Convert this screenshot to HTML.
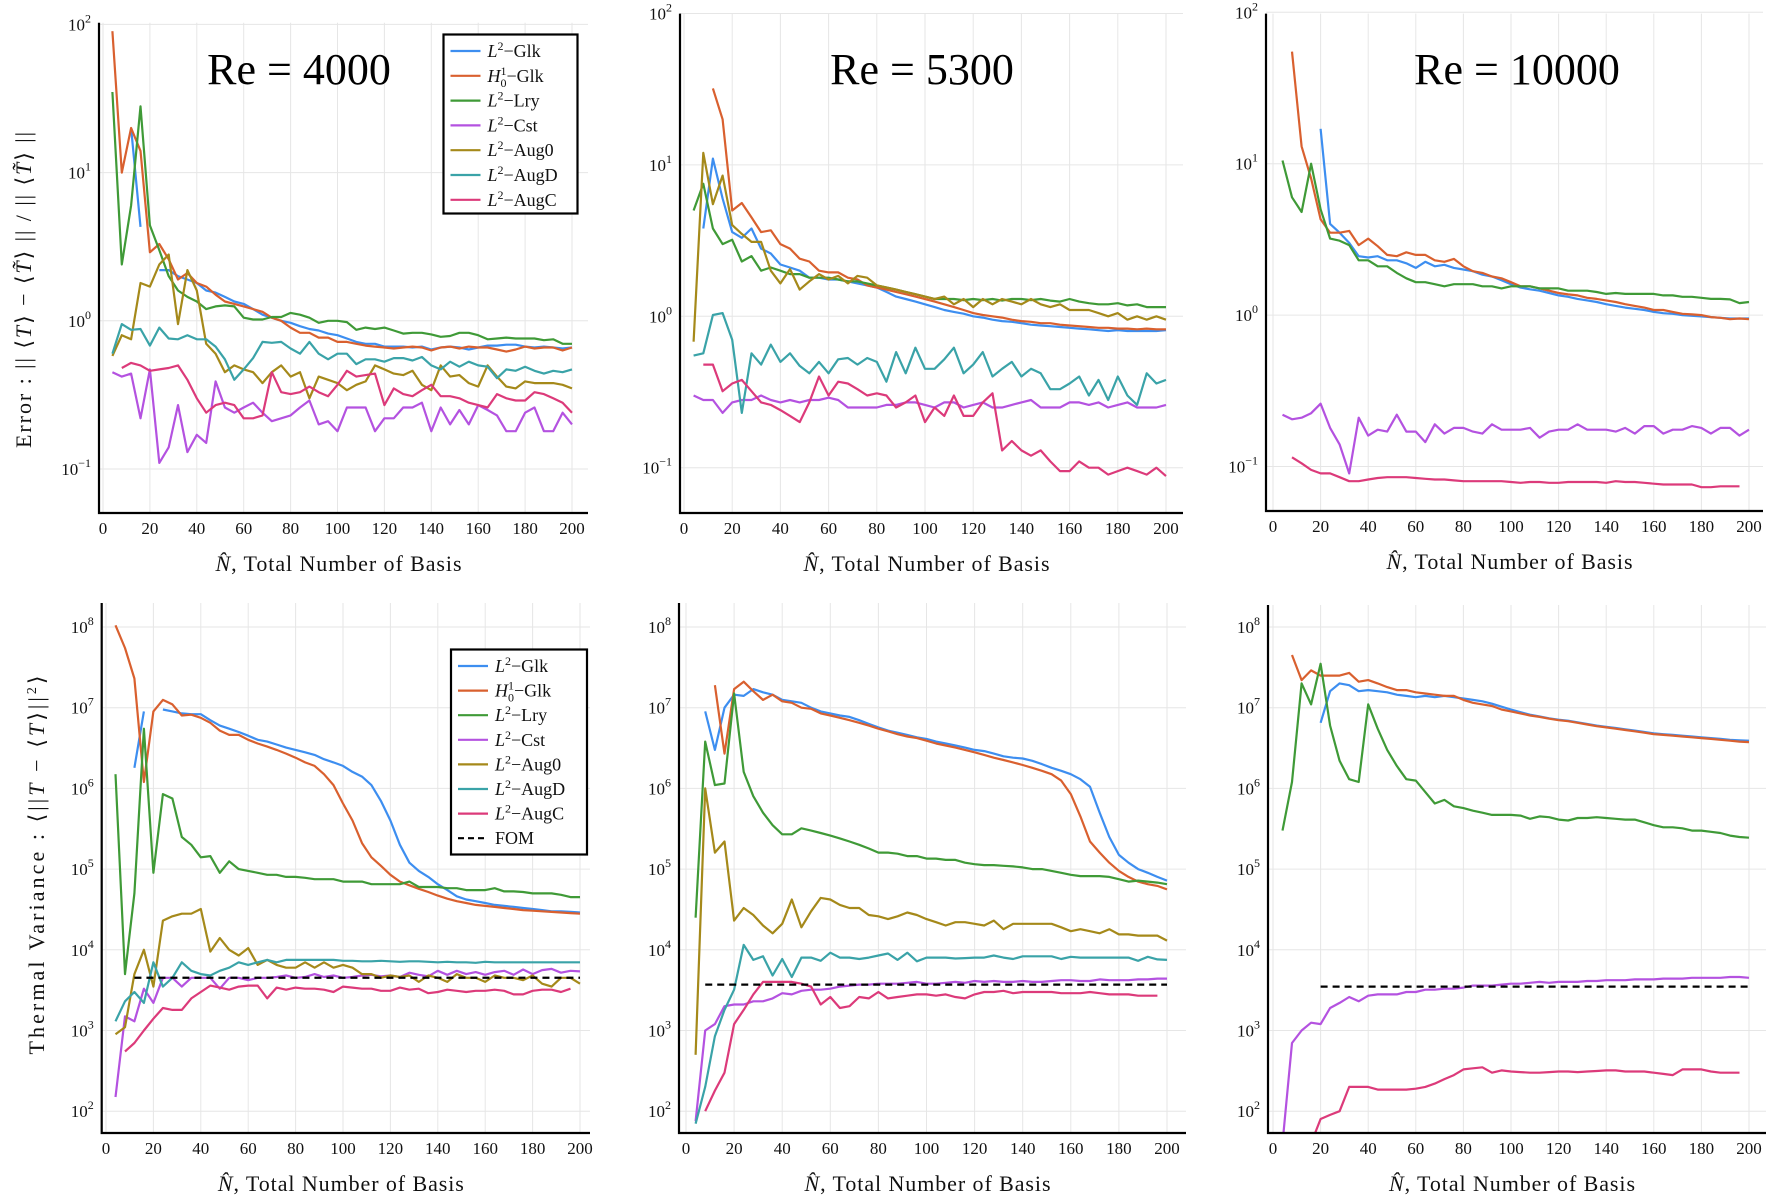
<!DOCTYPE html>
<html><head><meta charset="utf-8"><style>
html,body{margin:0;padding:0;background:#fff;}
svg{display:block;font-family:"Liberation Serif","DejaVu Serif",serif;}
</style></head><body>
<svg id="chart" xmlns="http://www.w3.org/2000/svg" width="1772" height="1204" viewBox="0 0 1772 1204"></svg>
<script>
// ---------- data ----------
const N = [4,8,12,16,20,24,28,32,36,40,44,48,52,56,60,64,68,72,76,80,84,88,92,96,100,104,108,112,116,120,124,128,132,136,140,144,148,152,156,160,164,168,172,176,180,184,188,192,196,200];
const xTicks = [0,20,40,60,80,100,120,140,160,180,200];
const seriesNames = ["L2-Glk","H01-Glk","L2-Lry","L2-Cst","L2-Aug0","L2-AugD","L2-AugC"];

const aGlk=[null,null,20,4.3,null,2.2,2.2,2.0,1.9,1.8,1.6,1.55,1.45,1.35,1.3,1.2,1.1,1.05,1.0,0.97,0.92,0.88,0.86,0.82,0.8,0.76,0.72,0.7,0.7,0.67,0.67,0.67,0.66,0.67,0.64,0.66,0.67,0.66,0.64,0.66,0.68,0.68,0.69,0.69,0.67,0.66,0.67,0.66,0.65,0.66];
const aH1=[90,10,20,14,2.9,3.3,2.6,1.9,2.1,1.8,1.7,1.5,1.35,1.3,1.25,1.2,1.15,1.05,1.0,0.9,0.83,0.83,0.77,0.77,0.72,0.72,0.7,0.68,0.67,0.66,0.65,0.66,0.67,0.66,0.63,0.66,0.67,0.65,0.67,0.66,0.66,0.64,0.62,0.64,0.67,0.65,0.66,0.66,0.63,0.66];
const aLry=[35,2.4,6,28,4.4,3.0,2.0,1.6,1.45,1.35,1.2,1.25,1.27,1.25,1.05,1.02,1.02,1.06,1.06,1.13,1.1,1.05,0.97,1.0,1.0,0.98,0.87,0.9,0.88,0.9,0.86,0.82,0.83,0.83,0.81,0.78,0.79,0.83,0.83,0.8,0.75,0.76,0.77,0.76,0.76,0.76,0.74,0.75,0.7,0.7];
const aCst=[0.45,0.42,0.44,0.22,0.47,0.11,0.14,0.27,0.13,0.17,0.15,0.39,0.26,0.24,0.26,0.28,0.24,0.21,0.22,0.23,0.26,0.29,0.2,0.21,0.18,0.26,0.26,0.26,0.18,0.22,0.22,0.26,0.26,0.28,0.18,0.26,0.2,0.25,0.2,0.27,0.25,0.23,0.18,0.18,0.24,0.26,0.18,0.18,0.24,0.2];
const aAug0=[0.58,0.8,0.75,1.8,1.7,2.4,2.8,0.95,2.2,1.6,0.7,0.6,0.45,0.5,0.47,0.45,0.38,0.45,0.5,0.42,0.45,0.3,0.42,0.4,0.38,0.34,0.37,0.39,0.5,0.47,0.44,0.43,0.46,0.37,0.34,0.5,0.42,0.43,0.38,0.36,0.5,0.42,0.36,0.35,0.39,0.38,0.38,0.38,0.37,0.35];
const aAugD=[0.6,0.95,0.87,0.88,0.68,0.9,0.76,0.75,0.8,0.75,0.75,0.67,0.55,0.4,0.47,0.56,0.72,0.71,0.72,0.65,0.6,0.72,0.6,0.55,0.6,0.6,0.51,0.55,0.55,0.53,0.56,0.56,0.54,0.57,0.5,0.47,0.53,0.49,0.53,0.5,0.49,0.41,0.47,0.46,0.49,0.46,0.44,0.46,0.45,0.47];
const aAugC=[null,0.48,0.52,0.5,0.46,0.47,0.48,0.5,0.4,0.3,0.24,0.27,0.28,0.27,0.22,0.22,0.23,0.45,0.33,0.32,0.33,0.36,0.33,0.31,0.37,0.46,0.42,0.43,0.44,0.27,0.35,0.32,0.31,0.34,0.37,0.31,0.31,0.3,0.28,0.27,0.26,0.32,0.3,0.29,0.29,0.33,0.32,0.3,0.28,0.24];

const bGlk=[null,3.8,11,6,3.6,3.3,3.8,2.8,2.6,2.2,2.1,2.0,1.8,1.8,1.75,1.75,1.7,1.65,1.6,1.55,1.45,1.35,1.3,1.25,1.2,1.15,1.1,1.07,1.04,1.0,0.98,0.95,0.93,0.92,0.9,0.88,0.87,0.86,0.85,0.84,0.83,0.82,0.81,0.8,0.81,0.8,0.8,0.8,0.8,0.81];
const bH1=[null,null,32,20,5,5.6,4.5,3.6,3.7,3.0,2.8,2.4,2.3,2.0,1.95,1.95,1.8,1.75,1.6,1.55,1.5,1.45,1.4,1.35,1.3,1.25,1.2,1.15,1.1,1.05,1.02,1.0,0.98,0.95,0.93,0.92,0.9,0.9,0.88,0.87,0.86,0.85,0.84,0.84,0.83,0.83,0.82,0.83,0.82,0.82];
const bLry=[5,7.5,3.8,3.0,3.2,2.3,2.5,2.0,2.1,2.0,1.9,1.9,1.8,1.8,1.8,1.75,1.7,1.7,1.65,1.6,1.55,1.5,1.45,1.4,1.35,1.3,1.3,1.3,1.28,1.3,1.28,1.3,1.27,1.3,1.3,1.28,1.3,1.27,1.25,1.3,1.25,1.22,1.2,1.2,1.22,1.18,1.2,1.15,1.15,1.15];
const bCst=[0.3,0.28,0.28,0.23,0.27,0.28,0.28,0.3,0.28,0.27,0.28,0.27,0.28,0.28,0.29,0.28,0.25,0.25,0.25,0.25,0.26,0.26,0.27,0.27,0.26,0.25,0.27,0.27,0.25,0.26,0.27,0.25,0.25,0.26,0.27,0.28,0.25,0.25,0.25,0.27,0.27,0.26,0.27,0.25,0.26,0.27,0.25,0.25,0.25,0.26];
const bAug0=[0.68,12,5.5,8.5,4.0,3.5,3.1,3.1,2.0,1.65,2.05,1.5,1.7,1.9,1.75,1.85,1.65,1.85,1.8,1.6,1.55,1.5,1.45,1.4,1.35,1.3,1.35,1.2,1.3,1.15,1.3,1.2,1.3,1.25,1.2,1.3,1.2,1.15,1.2,1.1,1.1,1.1,1.05,1.0,1.05,0.95,1.0,0.95,1.0,0.95];
const bAugD=[0.55,0.57,1.02,1.05,0.7,0.23,0.57,0.48,0.65,0.5,0.57,0.47,0.42,0.5,0.42,0.52,0.53,0.48,0.53,0.5,0.37,0.58,0.42,0.62,0.45,0.45,0.52,0.62,0.42,0.48,0.58,0.4,0.45,0.5,0.4,0.45,0.42,0.33,0.33,0.36,0.4,0.3,0.38,0.28,0.4,0.3,0.26,0.42,0.36,0.38];
const bAugC=[null,0.48,0.48,0.32,0.36,0.38,0.32,0.27,0.26,0.24,0.22,0.2,0.27,0.4,0.3,0.37,0.36,0.33,0.3,0.31,0.3,0.25,0.27,0.3,0.2,0.25,0.22,0.3,0.22,0.22,0.27,0.31,0.13,0.15,0.13,0.12,0.13,0.11,0.095,0.095,0.11,0.1,0.1,0.09,0.095,0.1,0.095,0.09,0.1,0.088];

const cGlk=[null,null,null,null,17,4.0,3.5,3.0,2.45,2.4,2.45,2.3,2.3,2.2,2.05,2.25,2.1,2.15,2.05,2.0,1.95,1.85,1.8,1.7,1.6,1.52,1.48,1.45,1.4,1.35,1.32,1.28,1.25,1.22,1.18,1.15,1.12,1.1,1.08,1.05,1.03,1.02,1.0,0.99,0.98,0.97,0.96,0.95,0.95,0.95];
const cH1=[null,55,13,8,4.3,3.5,3.5,3.6,2.9,3.2,2.85,2.5,2.45,2.6,2.5,2.5,2.3,2.25,2.35,2.1,1.95,1.9,1.8,1.75,1.65,1.55,1.55,1.5,1.45,1.4,1.37,1.35,1.3,1.28,1.25,1.22,1.18,1.15,1.12,1.08,1.08,1.05,1.02,1.01,1.0,0.97,0.96,0.94,0.95,0.94];
const cLry=[10.5,6,4.8,10,5,3.2,3.1,2.9,2.3,2.3,2.1,2.1,1.9,1.75,1.65,1.65,1.6,1.55,1.6,1.6,1.6,1.55,1.55,1.5,1.55,1.55,1.55,1.5,1.5,1.5,1.45,1.45,1.45,1.42,1.38,1.4,1.38,1.38,1.38,1.38,1.35,1.35,1.32,1.32,1.3,1.28,1.28,1.27,1.2,1.22];
const cCst=[0.22,0.205,0.21,0.225,0.26,0.18,0.14,0.09,0.21,0.16,0.175,0.17,0.22,0.17,0.17,0.145,0.19,0.165,0.18,0.18,0.17,0.165,0.19,0.175,0.175,0.175,0.18,0.155,0.17,0.175,0.175,0.19,0.175,0.175,0.175,0.17,0.18,0.165,0.185,0.185,0.165,0.175,0.175,0.185,0.18,0.165,0.18,0.18,0.16,0.175];
const cAugC=[null,0.115,0.105,0.095,0.09,0.09,0.085,0.08,0.08,0.082,0.084,0.085,0.085,0.085,0.084,0.083,0.082,0.082,0.081,0.08,0.08,0.08,0.08,0.08,0.079,0.078,0.079,0.079,0.078,0.078,0.079,0.079,0.079,0.079,0.078,0.08,0.079,0.079,0.078,0.077,0.076,0.076,0.076,0.076,0.073,0.073,0.074,0.074,0.074,null];

const dGlk=[null,null,1.8e6,9e6,null,9.5e6,9e6,8.5e6,8.3e6,8.3e6,7e6,6e6,5.5e6,5e6,4.5e6,4e6,3.8e6,3.5e6,3.2e6,3.0e6,2.8e6,2.6e6,2.3e6,2.1e6,1.9e6,1.6e6,1.4e6,1.1e6,7e5,4e5,2e5,1.2e5,9.5e4,8e4,6.5e4,5.5e4,4.6e4,4.2e4,4e4,3.8e4,3.6e4,3.5e4,3.4e4,3.3e4,3.2e4,3.1e4,3.0e4,3.0e4,2.95e4,2.9e4];
const dH1=[1.05e8,5.5e7,2.3e7,1.2e6,9e6,1.25e7,1.1e7,8e6,8.2e6,7.5e6,6.5e6,5.2e6,4.6e6,4.6e6,4.0e6,3.6e6,3.3e6,3.0e6,2.7e6,2.4e6,2.1e6,1.9e6,1.5e6,1.1e6,6.5e5,4e5,2.1e5,1.4e5,1.1e5,8.5e4,7e4,6.3e4,5.7e4,5.2e4,4.7e4,4.3e4,4.0e4,3.8e4,3.6e4,3.5e4,3.4e4,3.3e4,3.2e4,3.1e4,3.05e4,3.0e4,2.95e4,2.9e4,2.85e4,2.8e4];
const dLry=[1.5e6,5e3,5e4,5.5e6,9e4,8.5e5,7.5e5,2.5e5,2e5,1.4e5,1.45e5,9e4,1.25e5,1e5,9.5e4,9e4,8.5e4,8.5e4,8e4,8e4,7.8e4,7.5e4,7.5e4,7.5e4,7e4,7e4,7e4,6.5e4,6.5e4,6.5e4,6.5e4,7e4,6e4,6e4,6e4,5.8e4,5.8e4,5.5e4,5.5e4,5.5e4,5.8e4,5.3e4,5.3e4,5.2e4,5e4,5e4,5e4,4.8e4,4.5e4,4.5e4];
const dCst=[1.5e2,1.5e3,1.3e3,3.3e3,2.2e3,4.5e3,4.5e3,3.5e3,4.5e3,4.5e3,4.5e3,3.3e3,4.5e3,4.5e3,4.2e3,4.5e3,4.5e3,4.6e3,4.8e3,4.5e3,4.6e3,5e3,4.6e3,4.8e3,4.5e3,4.6e3,4.8e3,4.9e3,4.7e3,4.8e3,4.6e3,5.2e3,4.9e3,4.7e3,5.5e3,4.9e3,5.5e3,5e3,5.3e3,4.9e3,5.3e3,5.5e3,4.9e3,5.7e3,5e3,5.6e3,5.8e3,5.2e3,5.5e3,5.4e3];
const dAug0=[9e2,1.1e3,5e3,1e4,3.5e3,2.3e4,2.6e4,2.8e4,2.8e4,3.2e4,9.5e3,1.4e4,1e4,8.5e3,1.05e4,6.5e3,7.5e3,6.5e3,6e3,6e3,7e3,6e3,7e3,6e3,6.5e3,6e3,5e3,5e3,4.5e3,4.8e3,4.6e3,4.8e3,4e3,4.8e3,4.5e3,4e3,5e3,4.5e3,4.5e3,4e3,4.8e3,4.5e3,4.5e3,4.2e3,4.8e3,3.8e3,3.5e3,4.5e3,4.5e3,3.8e3];
const dAugD=[1.3e3,2.3e3,3e3,2.2e3,7e3,3.5e3,4.5e3,7e3,5.5e3,5e3,4.8e3,5.5e3,6e3,7e3,6.5e3,7e3,7.5e3,7e3,7.5e3,7.5e3,7.5e3,7.5e3,7.5e3,7.5e3,7.3e3,7.3e3,7.2e3,7.2e3,7.3e3,7.2e3,7.1e3,7.2e3,7.2e3,7.1e3,7.0e3,7.1e3,7.0e3,7.0e3,6.9e3,7.1e3,7.0e3,7.0e3,7.0e3,7.0e3,7.0e3,7.0e3,7.0e3,7.0e3,7.0e3,7.0e3];
const dAugC=[null,5.5e2,7e2,1e3,1.4e3,1.9e3,1.8e3,1.8e3,2.5e3,3e3,3.6e3,3.4e3,3.2e3,3.5e3,3.6e3,3.6e3,2.5e3,3.4e3,3.2e3,3.4e3,3.3e3,3.3e3,3.2e3,3.0e3,3.5e3,3.4e3,3.3e3,3.3e3,3.1e3,3.1e3,3.4e3,3.2e3,3.3e3,2.9e3,3.0e3,3.2e3,3.1e3,3.0e3,3.1e3,3.1e3,3.2e3,3.1e3,2.8e3,2.8e3,3.1e3,3.2e3,3.2e3,3.0e3,3.3e3,null];

const eGlk=[null,9e6,3e6,1e7,1.45e7,1.4e7,1.7e7,1.55e7,1.45e7,1.25e7,1.2e7,1.15e7,1e7,9e6,8.5e6,8e6,7.7e6,7e6,6.3e6,5.7e6,5.2e6,4.9e6,4.6e6,4.3e6,4.1e6,3.8e6,3.6e6,3.4e6,3.2e6,3.0e6,2.9e6,2.7e6,2.5e6,2.4e6,2.35e6,2.2e6,2.0e6,1.8e6,1.65e6,1.5e6,1.3e6,1.05e6,5e5,2.5e5,1.5e5,1.2e5,1.0e5,9e4,8e4,7.2e4];
const eH1=[null,null,1.9e7,2.7e6,1.7e7,2.1e7,1.6e7,1.25e7,1.45e7,1.2e7,1.15e7,1.0e7,9.7e6,8.5e6,8e6,7.5e6,7e6,6.5e6,6e6,5.5e6,5.1e6,4.7e6,4.4e6,4.2e6,3.9e6,3.6e6,3.4e6,3.2e6,3.0e6,2.8e6,2.6e6,2.4e6,2.25e6,2.1e6,1.95e6,1.8e6,1.65e6,1.5e6,1.25e6,8.5e5,4.5e5,2.2e5,1.6e5,1.2e5,9.5e4,8e4,7e4,6.5e4,6.2e4,5.6e4];
const eLry=[2.5e4,3.8e6,1.1e6,1.15e6,1.5e7,1.6e6,8e5,5e5,3.5e5,2.7e5,2.7e5,3.2e5,3e5,2.8e5,2.6e5,2.4e5,2.2e5,2e5,1.8e5,1.6e5,1.6e5,1.55e5,1.45e5,1.45e5,1.35e5,1.35e5,1.3e5,1.3e5,1.2e5,1.15e5,1.12e5,1.12e5,1.1e5,1.08e5,1.05e5,1.0e5,1.0e5,9.5e4,9e4,8.5e4,8.2e4,8.2e4,8.2e4,8e4,7.5e4,7e4,7.2e4,7e4,6.8e4,6.5e4];
const eCst=[75,1e3,1.2e3,2e3,2.1e3,2.1e3,2.3e3,2.3e3,2.5e3,2.9e3,2.8e3,3.1e3,3.2e3,3.2e3,3.3e3,3.5e3,3.6e3,3.7e3,3.7e3,3.8e3,3.8e3,3.8e3,3.9e3,4e3,3.8e3,3.8e3,3.9e3,4e3,3.9e3,4.1e3,4.0e3,4.1e3,4.0e3,4.0e3,4.1e3,4.0e3,4.0e3,4.1e3,4.2e3,4.2e3,4.1e3,4.1e3,4.3e3,4.2e3,4.2e3,4.2e3,4.3e3,4.3e3,4.4e3,4.4e3];
const eAug0=[5e2,1e6,1.6e5,2.2e5,2.3e4,3.3e4,2.7e4,2e4,1.6e4,2.1e4,4.2e4,1.9e4,3e4,4.4e4,4.2e4,3.6e4,3.3e4,3.3e4,2.7e4,2.6e4,2.4e4,2.6e4,2.9e4,2.7e4,2.4e4,2.2e4,2e4,2.2e4,2.2e4,2.1e4,2e4,2.3e4,1.8e4,2.1e4,2.1e4,2.1e4,2.1e4,2.1e4,1.9e4,1.7e4,1.8e4,1.7e4,1.6e4,1.8e4,1.55e4,1.55e4,1.5e4,1.5e4,1.5e4,1.3e4];
const eAugD=[70,2e2,8.5e2,1.8e3,3.2e3,1.15e4,7.5e3,8.3e3,4.8e3,7.7e3,4.6e3,8e3,8e3,7.3e3,9.2e3,8e3,8e3,7.7e3,8e3,8.5e3,9e3,7.5e3,9.2e3,7.2e3,8e3,8e3,8e3,7.8e3,7.9e3,8e3,8e3,8.5e3,8e3,7.7e3,8.3e3,8.3e3,8.3e3,8.3e3,7.7e3,8.2e3,8e3,8e3,8e3,8e3,8e3,8e3,7.3e3,8.2e3,7.6e3,7.5e3];
const eAugC=[null,1e2,1.8e2,3e2,1.2e3,1.8e3,2.8e3,4e3,4e3,4e3,4e3,3.8e3,3.5e3,2.1e3,2.6e3,1.9e3,2e3,2.6e3,2.5e3,3e3,2.5e3,2.6e3,2.7e3,2.8e3,2.8e3,2.7e3,2.8e3,2.6e3,2.5e3,2.8e3,3e3,3e3,3.1e3,2.9e3,3e3,3e3,3e3,3e3,2.9e3,2.9e3,2.9e3,3e3,2.9e3,2.8e3,2.8e3,2.8e3,2.7e3,2.7e3,2.7e3,null];

const fGlk=[null,null,null,null,6.5e6,1.6e7,2e7,1.9e7,1.6e7,1.65e7,1.6e7,1.55e7,1.45e7,1.4e7,1.35e7,1.4e7,1.35e7,1.4e7,1.35e7,1.3e7,1.25e7,1.2e7,1.12e7,1.03e7,9.5e6,8.8e6,8.2e6,7.8e6,7.4e6,7.1e6,6.9e6,6.6e6,6.3e6,6e6,5.8e6,5.6e6,5.4e6,5.2e6,5.0e6,4.8e6,4.7e6,4.6e6,4.5e6,4.4e6,4.3e6,4.2e6,4.1e6,4.0e6,3.95e6,3.9e6];
const fH1=[null,4.5e7,2.2e7,2.9e7,2.5e7,2.5e7,2.5e7,2.7e7,2.1e7,2.2e7,2e7,1.8e7,1.65e7,1.65e7,1.55e7,1.5e7,1.45e7,1.4e7,1.4e7,1.25e7,1.15e7,1.1e7,1.05e7,9.5e6,9e6,8.5e6,8e6,7.7e6,7.3e6,7e6,6.8e6,6.5e6,6.2e6,5.9e6,5.7e6,5.5e6,5.3e6,5.1e6,4.9e6,4.7e6,4.6e6,4.5e6,4.4e6,4.3e6,4.2e6,4.1e6,4.0e6,3.9e6,3.8e6,3.75e6];
const fLry=[3e5,1.2e6,2e7,1.1e7,3.5e7,6e6,2.2e6,1.3e6,1.2e6,1.1e7,5.5e6,3e6,1.9e6,1.3e6,1.25e6,9e5,6.5e5,7.2e5,6e5,5.7e5,5.3e5,5e5,4.7e5,4.7e5,4.7e5,4.6e5,4.2e5,4.5e5,4.4e5,4.1e5,4.0e5,4.3e5,4.3e5,4.4e5,4.3e5,4.2e5,4.1e5,4.1e5,3.8e5,3.5e5,3.3e5,3.3e5,3.2e5,3e5,3e5,2.9e5,2.8e5,2.6e5,2.5e5,2.45e5];
const fCst=[40,7e2,1e3,1.25e3,1.2e3,1.9e3,2.2e3,2.6e3,2.3e3,2.7e3,2.8e3,2.8e3,2.8e3,3e3,3e3,3.2e3,3.2e3,3.3e3,3.3e3,3.4e3,3.6e3,3.6e3,3.6e3,3.7e3,3.8e3,3.8e3,3.9e3,4e3,3.9e3,4e3,4e3,4e3,4.1e3,4.1e3,4.2e3,4.2e3,4.2e3,4.3e3,4.3e3,4.3e3,4.4e3,4.4e3,4.4e3,4.5e3,4.5e3,4.5e3,4.5e3,4.6e3,4.6e3,4.5e3];
const fAugC=[null,null,null,40,80,90,1e2,2e2,2e2,2e2,1.85e2,1.85e2,1.85e2,1.85e2,1.9e2,2e2,2.2e2,2.5e2,2.8e2,3.3e2,3.4e2,3.5e2,3e2,3.2e2,3.1e2,3.05e2,3e2,3e2,3.05e2,3.1e2,3.1e2,3.05e2,3.1e2,3.15e2,3.2e2,3.2e2,3.1e2,3.1e2,3.1e2,3e2,2.9e2,2.8e2,3.3e2,3.3e2,3.3e2,3.1e2,3e2,3e2,3e2,null];

const fomLevel = [4.5e3, 3.7e3, 3.5e3];
const fomStart = [12, 8, 20];
const fomEnd = [200, 200, 200];

const colors = ["#3d8ef0","#d9602f","#3f9a37","#b452e0","#a5891a","#3aa3a8","#dc3a7a"];

// ---------- rendering ----------
const NS = "http://www.w3.org/2000/svg";
const svg = document.getElementById("chart");
function mk(tag, attrs, parent) {
  const e = document.createElementNS(NS, tag);
  for (const k in attrs) e.setAttribute(k, attrs[k]);
  (parent || svg).appendChild(e);
  return e;
}

const panels = [
  {key:"re4000-error", px0:103, px200:572, left:99, right:588, top:22.7, bottom:513, refLog:-1, refPx:469, dec:148.2, decs:[-1,0,1,2],
   series:[aGlk,aH1,aLry,aCst,aAug0,aAugD,aAugC], fom:null, title:"Re = 4000", titleX:299},
  {key:"re5300-error", px0:684, px200:1166, left:680, right:1183, top:13.6, bottom:513, refLog:-1, refPx:467.7, dec:151.4, decs:[-1,0,1,2],
   series:[bGlk,bH1,bLry,bCst,bAug0,bAugD,bAugC], fom:null, title:"Re = 5300", titleX:922},
  {key:"re10000-error", px0:1273, px200:1749, left:1266, right:1763, top:13.6, bottom:511, refLog:-1, refPx:466.5, dec:151.4, decs:[-1,0,1,2],
   series:[cGlk,cH1,cLry,cCst,null,null,cAugC], fom:null, title:"Re = 10000", titleX:1517},
  {key:"re4000-variance", px0:106, px200:580, left:101.7, right:590, top:603, bottom:1133, refLog:8, refPx:627, dec:80.7, decs:[2,3,4,5,6,7,8],
   series:[dGlk,dH1,dLry,dCst,dAug0,dAugD,dAugC], fom:0},
  {key:"re5300-variance", px0:686, px200:1167, left:679, right:1186, top:603, bottom:1133, refLog:8, refPx:627, dec:80.7, decs:[2,3,4,5,6,7,8],
   series:[eGlk,eH1,eLry,eCst,eAug0,eAugD,eAugC], fom:1},
  {key:"re10000-variance", px0:1273, px200:1749, left:1268, right:1766, top:605, bottom:1133, refLog:8, refPx:627, dec:80.7, decs:[2,3,4,5,6,7,8],
   series:[fGlk,fH1,fLry,fCst,null,null,fAugC], fom:2}
];

panels.forEach((p, pi) => {
  const xs = v => p.px0 + (p.px200 - p.px0) * v / 200;
  const ys = v => p.refPx - (Math.log10(v) - p.refLog) * p.dec;
  const g = mk("g", {});
  
  
  const clip = mk("clipPath", {id: "clip" + pi}, g);
  mk("rect", {x: p.left, y: p.top, width: p.right - p.left, height: p.bottom - p.top}, clip);

  xTicks.forEach(t => {
    const l = mk("line", {x1: xs(t), x2: xs(t), y1: p.top, y2: p.bottom, stroke: "#e6e6e6", "stroke-width": 1}, g);
    
    
  });
  p.decs.forEach(d => {
    const y = p.refPx - (d - p.refLog) * p.dec;
    const l = mk("line", {x1: p.left, x2: p.right, y1: y, y2: y, stroke: "#e6e6e6", "stroke-width": 1}, g);
    
    
    const t = mk("text", {x: p.left - 8, y: y + 6, "text-anchor": "end", "font-size": 17, fill: "#111"}, g);
    t.innerHTML = '10<tspan dy="-8" font-size="12">' + (d < 0 ? '\u2212' + (-d) : d) + '</tspan>';
    
    
  });
  xTicks.forEach(t => {
    const tx = mk("text", {x: xs(t), y: p.bottom + 21, "text-anchor": "middle", "font-size": 17, fill: "#111"}, g);
    tx.textContent = t;
    
    
  });

  const sg = mk("g", {"clip-path": "url(#clip" + pi + ")"}, g);
  p.series.forEach((arr, si) => {
    if (!arr) return;
    let d = "", pen = false;
    arr.forEach((v, i) => {
      if (v === null) { pen = false; return; }
      d += (pen ? "L" : "M") + xs(N[i]).toFixed(1) + " " + ys(v).toFixed(1);
      pen = true;
    });
    const path = mk("path", {d: d, fill: "none", stroke: colors[si], "stroke-width": 2.2, "stroke-linejoin": "round"}, sg);
    
    
  });
  if (p.fom !== null) {
    const k = p.fom;
    const fl = mk("line", {x1: xs(fomStart[k]), x2: xs(fomEnd[k]), y1: ys(fomLevel[k]), y2: ys(fomLevel[k]), stroke: "#000", "stroke-width": 2.2, "stroke-dasharray": "7,5"}, sg);
    
    
  }

  const ax = mk("path", {d: "M" + p.left + " " + p.top + "V" + p.bottom + "H" + p.right, fill: "none", stroke: "#000", "stroke-width": 2.2}, g);
  
  

  const xl = mk("text", {x: (p.left + p.right) / 2 - 5, y: p.bottom + 58, "text-anchor": "middle", "font-size": 22, fill: "#111", textLength: 246, lengthAdjust: "spacing"}, g);
  xl.innerHTML = '<tspan font-style="italic">N\u0302</tspan>,  Total Number of Basis';
  
  

  if (p.title) {
    const tt = mk("text", {x: p.titleX, y: 84, "text-anchor": "middle", "font-size": 44, fill: "#000"}, g);
    tt.textContent = p.title;
    
    
  }
});

const yt1 = mk("text", {x: 0, y: 0, "text-anchor": "middle", "font-size": 22, fill: "#111", transform: "translate(31,290) rotate(-90)", textLength: 316, lengthAdjust: "spacing"});
yt1.innerHTML = 'Error : || \u27E8<tspan font-style="italic">T</tspan>\u27E9 \u2212 \u27E8<tspan font-style="italic">T\u0303</tspan>\u27E9 || / || \u27E8<tspan font-style="italic">T\u0303</tspan>\u27E9 ||';


const yt2 = mk("text", {x: 0, y: 0, "text-anchor": "middle", "font-size": 22, fill: "#111", transform: "translate(44,865) rotate(-90)", textLength: 379, lengthAdjust: "spacing"});
yt2.innerHTML = 'Thermal Variance : \u27E8||<tspan font-style="italic">T</tspan> \u2212 \u27E8<tspan font-style="italic">T</tspan>\u27E9||<tspan dy="-8" font-size="14">2</tspan><tspan dy="8">\u27E9</tspan>';



const legendLabels = [
  '<tspan font-style="italic">L</tspan><tspan dy="-7" font-size="12">2</tspan><tspan dy="7">\u2212Glk</tspan>',
  '<tspan font-style="italic">H</tspan><tspan dy="-7" font-size="12">1</tspan><tspan dx="-6" dy="12" font-size="12">0</tspan><tspan dy="-5">\u2212Glk</tspan>',
  '<tspan font-style="italic">L</tspan><tspan dy="-7" font-size="12">2</tspan><tspan dy="7">\u2212Lry</tspan>',
  '<tspan font-style="italic">L</tspan><tspan dy="-7" font-size="12">2</tspan><tspan dy="7">\u2212Cst</tspan>',
  '<tspan font-style="italic">L</tspan><tspan dy="-7" font-size="12">2</tspan><tspan dy="7">\u2212Aug0</tspan>',
  '<tspan font-style="italic">L</tspan><tspan dy="-7" font-size="12">2</tspan><tspan dy="7">\u2212AugD</tspan>',
  '<tspan font-style="italic">L</tspan><tspan dy="-7" font-size="12">2</tspan><tspan dy="7">\u2212AugC</tspan>'
];
function legend(x0, y0, w, h, rowY0, rowGap, withFom, nm) {
  const g = mk("g", {});
  
  
  mk("rect", {x: x0, y: y0, width: w, height: h, fill: "#fff", stroke: "#000", "stroke-width": 2.2}, g);
  const n = withFom ? 8 : 7;
  for (let i = 0; i < n; i++) {
    const y = rowY0 + i * rowGap;
    const e = mk("g", {}, g);
    
    
    const isF = i === 7;
    mk("line", {x1: x0 + 7, x2: x0 + 37, y1: y, y2: y, stroke: isF ? "#000" : colors[i], "stroke-width": 2.2, "stroke-dasharray": isF ? "6,4" : "none"}, e);
    const t = mk("text", {x: x0 + 44, y: y + 6, "font-size": 18, fill: "#111"}, e);
    t.innerHTML = isF ? "FOM" : legendLabels[i];
  }
}
legend(443.5, 34.5, 134, 179, 51, 24.8, false, "legend-error");
legend(451, 649.5, 136, 205, 666, 24.6, true, "legend-variance");
</script>
</body></html>
